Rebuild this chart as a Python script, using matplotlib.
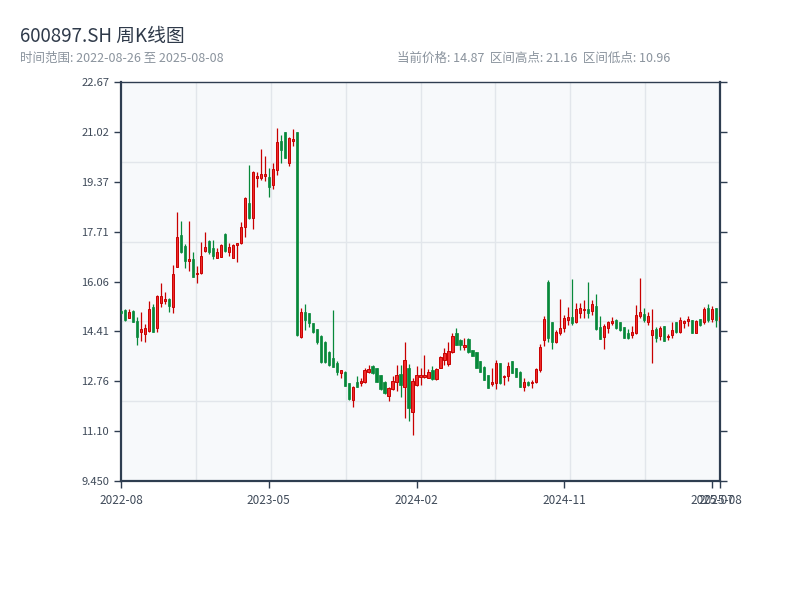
import numpy as np
import pandas as pd
from matplotlib import pyplot as plt
from matplotlib.ticker import FixedLocator

plt.rcParams['font.family'] = ['Noto Sans CJK SC', 'DejaVu Sans']

# weekly bars (Friday dates), holiday weeks without trading removed
holiday_weeks = ['2022-10-07', '2023-01-27', '2023-10-06', '2024-02-16']
dates = pd.date_range('2022-08-26', '2025-08-08', freq='7D')
dates = dates[~dates.isin(pd.to_datetime(holiday_weeks))]

opens = [15.08, 15.10, 14.86, 15.09, 14.75, 14.38, 14.31, 14.42, 15.22, 14.51,
         15.34, 15.43, 15.48, 15.23, 16.55, 17.60, 17.24, 16.75, 16.81, 16.32,
         16.33, 17.06, 17.41, 17.16, 16.85, 16.88, 17.65, 17.05, 16.85, 17.27,
         17.32, 17.85, 18.65, 18.15, 19.48, 19.50, 19.57, 19.53, 19.26, 19.75,
         20.72, 21.00, 19.98, 20.73, 21.00, 14.23, 15.06, 15.00, 14.68, 14.47,
         14.25, 14.05, 13.72, 13.51, 13.35, 13.02, 13.07, 12.69, 12.13, 12.74,
         12.69, 12.74, 13.05, 13.26, 13.18, 12.96, 12.73, 12.27, 12.50, 12.74,
         13.00, 12.58, 13.18, 11.75, 12.63, 12.90, 12.91, 12.86, 13.12, 12.83,
         13.19, 13.46, 13.33, 13.73, 14.36, 14.12, 13.88, 14.16, 13.79, 13.71,
         13.43, 13.24, 12.96, 12.66, 12.69, 13.35, 12.89, 12.93, 13.43, 13.20,
         13.07, 12.57, 12.74, 12.70, 12.74, 13.13, 14.12, 16.06, 14.72, 14.07,
         14.34, 14.51, 14.78, 14.89, 14.73, 15.01, 15.10, 15.14, 15.09, 15.25,
         14.56, 14.22, 14.53, 14.70, 14.80, 14.71, 14.55, 14.34, 14.28, 14.35,
         14.93, 14.97, 14.73, 14.28, 14.50, 14.26, 14.58, 14.21, 14.29, 14.71,
         14.40, 14.69, 14.75, 14.77, 14.37, 14.82, 14.72, 15.17, 14.83, 15.17,
         14.78]
highs = [15.10, 15.15, 15.15, 15.10, 14.88, 15.05, 14.65, 15.41, 15.30, 15.60,
         16.01, 15.71, 15.50, 16.61, 18.36, 18.07, 17.30, 18.07, 17.04, 16.57,
         17.37, 17.70, 17.44, 17.43, 17.17, 17.31, 17.68, 17.35, 17.30, 17.33,
         18.02, 18.85, 19.92, 19.72, 19.69, 20.44, 20.22, 19.81, 19.98, 21.16,
         20.91, 21.01, 20.84, 21.10, 21.01, 15.17, 15.31, 15.01, 14.70, 14.50,
         14.29, 14.09, 13.76, 15.12, 13.43, 13.13, 13.08, 12.70, 12.60, 12.93,
         12.87, 13.18, 13.29, 13.28, 13.20, 12.97, 12.75, 12.55, 12.93, 13.29,
         13.29, 14.07, 13.33, 12.85, 13.26, 13.18, 13.62, 13.15, 13.25, 13.18,
         13.59, 13.85, 14.07, 14.36, 14.51, 14.16, 14.18, 14.18, 13.80, 13.72,
         13.44, 13.25, 12.97, 13.18, 13.46, 13.36, 12.96, 13.38, 13.44, 13.21,
         13.08, 12.85, 12.77, 12.79, 13.20, 13.99, 14.92, 16.11, 14.73, 14.45,
         15.48, 14.95, 15.23, 16.13, 15.34, 15.34, 15.45, 16.06, 15.45, 15.66,
         14.92, 14.64, 14.75, 14.90, 14.82, 14.73, 14.56, 14.49, 14.60, 15.28,
         16.17, 15.18, 15.05, 15.15, 14.56, 14.60, 14.59, 14.31, 14.72, 14.72,
         14.90, 14.78, 14.92, 14.78, 14.78, 14.82, 15.22, 15.30, 15.24, 15.19,
         15.12]
lows = [14.98, 14.75, 14.84, 14.72, 13.94, 14.09, 14.07, 14.40, 14.38, 14.40,
        15.23, 15.32, 15.06, 15.00, 16.53, 17.00, 16.52, 16.42, 16.20, 16.02,
        16.30, 17.04, 16.97, 16.82, 16.83, 16.86, 17.05, 16.92, 16.84, 16.72,
        17.30, 17.55, 18.13, 17.81, 19.20, 19.42, 19.40, 18.87, 19.14, 19.59,
        20.00, 20.14, 19.89, 20.55, 14.25, 14.20, 14.45, 14.54, 14.35, 13.99,
        13.35, 13.37, 13.27, 13.22, 12.96, 12.87, 12.59, 12.15, 11.91, 12.55,
        12.61, 12.71, 13.02, 13.00, 12.72, 12.48, 12.33, 12.11, 12.47, 12.44,
        12.24, 11.53, 11.44, 10.96, 12.61, 12.63, 12.85, 12.85, 12.78, 12.80,
        13.18, 13.30, 13.27, 13.68, 13.95, 13.78, 13.78, 13.70, 13.59, 13.20,
        13.06, 12.79, 12.53, 12.61, 12.50, 12.68, 12.63, 12.77, 13.03, 12.90,
        12.56, 12.44, 12.60, 12.52, 12.71, 13.07, 13.92, 14.07, 13.84, 14.03,
        14.29, 14.40, 14.62, 14.62, 14.69, 14.84, 14.84, 14.84, 14.95, 14.45,
        14.14, 13.84, 14.37, 14.62, 14.50, 14.43, 14.18, 14.15, 14.20, 14.32,
        14.85, 14.73, 14.62, 13.37, 14.04, 14.12, 14.09, 14.12, 14.18, 14.37,
        14.37, 14.52, 14.60, 14.35, 14.35, 14.60, 14.65, 14.73, 14.73, 14.56,
        14.76]
closes = [15.01, 14.80, 15.06, 14.73, 14.23, 14.49, 14.53, 15.15, 14.40, 15.58,
          15.58, 15.48, 15.26, 16.31, 17.52, 17.03, 16.75, 16.81, 16.22, 16.35,
          16.89, 17.19, 17.05, 16.89, 17.03, 17.26, 17.07, 17.21, 17.27, 17.32,
          17.85, 18.82, 18.15, 19.70, 19.57, 19.62, 19.61, 19.20, 19.78, 20.67,
          20.42, 20.16, 20.80, 20.77, 14.29, 15.06, 14.78, 14.67, 14.40, 14.05,
          13.40, 13.40, 13.30, 13.24, 13.07, 13.12, 12.60, 12.17, 12.58, 12.58,
          12.77, 13.13, 13.16, 13.02, 12.74, 12.50, 12.35, 12.54, 12.77, 12.96,
          12.63, 13.46, 11.86, 12.75, 12.96, 12.95, 12.96, 13.05, 12.82, 13.17,
          13.57, 13.68, 13.76, 14.25, 13.96, 13.95, 13.95, 13.72, 13.60, 13.21,
          13.07, 12.80, 12.54, 12.72, 13.35, 12.69, 12.93, 13.26, 13.04, 12.91,
          12.57, 12.74, 12.62, 12.74, 13.15, 13.90, 14.81, 14.20, 14.07, 14.40,
          14.51, 14.84, 14.89, 14.67, 15.14, 15.17, 15.14, 15.01, 15.30, 14.50,
          14.15, 14.59, 14.71, 14.75, 14.51, 14.45, 14.20, 14.18, 14.38, 14.95,
          15.05, 14.78, 14.92, 14.45, 14.19, 14.51, 14.10, 14.27, 14.45, 14.38,
          14.78, 14.75, 14.81, 14.36, 14.76, 14.62, 15.15, 14.80, 15.15, 14.80,
          14.87]

# axis settings
y_min, y_max = 9.45, 22.67
y_tick_labels = ['9.450', '11.10', '12.76', '14.41', '16.06', '17.71', '19.37', '21.02', '22.67']
x_label_idx = [0, 37, 74, 111, 148, 150]

up_face, up_edge = '#ee2b2b', '#c80000'
down_col = '#07893a'
axis_col = '#2e3d50'

o = np.array(opens)
h = np.array(highs)
l = np.array(lows)
c = np.array(closes)
x = np.arange(len(dates))
up = c >= o

fig = plt.figure(figsize=(8, 6), dpi=100)
ax = fig.add_axes([0.15125, 0.19833, 0.74875, 0.665])
ax.set_facecolor('#f7f9fb')

# wicks
ax.vlines(x[up], l[up], h[up], color=up_edge, linewidth=0.9, zorder=3)
ax.vlines(x[~up], l[~up], h[~up], color=down_col, linewidth=0.9, zorder=3)
# bodies
bw = 0.55
ax.bar(x[up], np.maximum(c[up] - o[up], 0.02), bottom=o[up], width=bw,
       color=up_face, edgecolor=up_edge, linewidth=0.7, zorder=4)
ax.bar(x[~up], np.maximum(o[~up] - c[~up], 0.02), bottom=c[~up], width=bw,
       color=down_col, edgecolor=down_col, linewidth=0.5, zorder=4)

ax.set_xlim(0, len(dates) - 1)
ax.set_ylim(y_min, y_max)

yt = np.linspace(y_min, y_max, len(y_tick_labels))
ax.set_yticks(yt)
ax.set_yticklabels(y_tick_labels)
ax.yaxis.set_minor_locator(FixedLocator(np.linspace(y_min, y_max, 6)))

ax.set_xticks(x_label_idx)
ax.set_xticklabels([dates[i].strftime('%Y-%m') for i in x_label_idx])
ax.xaxis.set_minor_locator(FixedLocator(np.linspace(0, len(dates) - 1, 9)))

ax.grid(True, which='minor', color='#e2e6eb', linewidth=1.0, zorder=0)
ax.grid(False, which='major')
ax.set_axisbelow(True)

ax.tick_params(axis='both', which='major', direction='out', length=5, width=1,
               color=axis_col, labelcolor='#3f4a59', labelsize=8)
ax.tick_params(axis='x', which='major', labelsize=8.5, pad=4)
ax.tick_params(axis='y', which='major', right=True, labelright=False)
ax.tick_params(axis='both', which='minor', length=0)

for side in ['left', 'bottom', 'right']:
    ax.spines[side].set_color(axis_col)
    ax.spines[side].set_linewidth(1.6)
ax.spines['top'].set_color(axis_col)
ax.spines['top'].set_linewidth(1.0)

fig.text(0.025, 0.94, '600897.SH 周K线图', fontsize=13.5, color='#2f3a4a', va='center')
fig.text(0.025, 0.903, '时间范围: %s 至 %s' % (dates[0].strftime('%Y-%m-%d'), dates[-1].strftime('%Y-%m-%d')),
         fontsize=9, color='#8a939d', va='center')
fig.text(0.496, 0.903, '当前价格: %.2f  区间高点: %.2f  区间低点: %.2f' % (c[-1], h.max(), l.min()),
         fontsize=9, color='#8a939d', va='center')

fig.savefig('out.png', dpi=100)
